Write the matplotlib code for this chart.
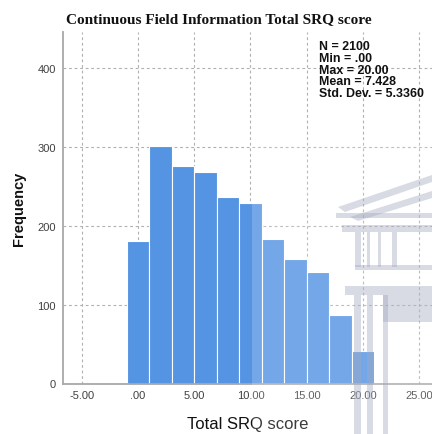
import matplotlib
matplotlib.use("Agg")
import matplotlib.pyplot as plt
from matplotlib.patches import Rectangle, Polygon

# Histogram of Total SRQ score (bins of width 2 centred on even scores)
bin_centers = [0, 2, 4, 6, 8, 10, 12, 14, 16, 18, 20]
frequencies = [181, 301, 275, 268, 236, 229, 183, 158, 141, 87, 41]
bin_width = 2.0

x_ticks = [-5, 0, 5, 10, 15, 20, 25]
x_tick_labels = ["-5.00", ".00", "5.00", "10.00", "15.00", "20.00", "25.00"]
y_ticks = [0, 100, 200, 300, 400]

stats_lines = ["N = 2100", "Min = .00", "Max = 20.00", "Mean = 7.428", "Std. Dev. = 5.3360"]
title = "Continuous Field Information Total SRQ score"

W, H = 432, 435
fig = plt.figure(figsize=(W / 100, H / 100), dpi=100)
ax = fig.add_axes([63 / W, 1 - 384.5 / H, 1 - 63 / W, (384.5 - 33) / H])

ax.bar(bin_centers, frequencies, width=bin_width, color="#5594e3",
       edgecolor="white", linewidth=0.8, zorder=2)

ax.set_xlim(-6.66, 26.14)
ax.set_ylim(0, 445)
ax.set_xticks(x_ticks)
ax.set_xticklabels(x_tick_labels)
ax.set_yticks(y_ticks)
ax.tick_params(length=0, labelsize=8, labelcolor="#404040", pad=5,
               labelfontfamily="Liberation Sans")
ax.grid(True, color="#b0b0b0", linestyle=(0, (2.5, 2.5)), linewidth=0.8, zorder=0)
ax.set_axisbelow(True)

for side in ("top", "right"):
    ax.spines[side].set_visible(False)
for side in ("left", "bottom"):
    ax.spines[side].set_color("#a8a8a8")
    ax.spines[side].set_linewidth(1.3)

ax.set_xlabel("Total SRQ score", fontsize=12, family="Liberation Sans",
              color="#111111", labelpad=11)
ax.set_ylabel("Frequency", fontsize=10.5, family="Liberation Sans",
              fontweight="bold", color="#111111", labelpad=8)

fig.text(219 / W, 1 - 20 / H, title, ha="center", va="center",
         family="Liberation Serif", fontweight="bold", fontsize=11, color="#111111")

# Summary statistics block, one line every ~12 px
for i, line in enumerate(stats_lines):
    fig.text(319 / W, 1 - (46.7 + 11.9 * i) / H, line, ha="left", va="center",
             family="Liberation Sans", fontweight="bold", fontsize=8.9,
             color="#111111")


# Faded building logo in the lower-right background
def px_rect(x0, y0, x1, y1, **kw):
    return Rectangle((x0 / W, 1 - y1 / H), (x1 - x0) / W, (y1 - y0) / H,
                     transform=fig.transFigure, **kw)


def px_poly(points, **kw):
    return Polygon([(x / W, 1 - y / H) for x, y in points],
                   transform=fig.transFigure, closed=True, **kw)


haze = dict(facecolor="white", edgecolor="none", alpha=0.18, zorder=5)
fig.add_artist(px_rect(252, 140, 432, 435, **haze))

logo = dict(facecolor="#a4a9c0", edgecolor="none", alpha=0.42, zorder=6)
# roof
fig.add_artist(px_poly([(338, 208), (432, 176), (432, 183), (345, 213)], **logo))
fig.add_artist(px_poly([(350, 218), (432, 192), (432, 199), (358, 222)], **logo))
fig.add_artist(px_rect(336, 214, 432, 219, **logo))
fig.add_artist(px_rect(342, 226, 432, 233, **logo))
# upper colonnade
for x0, x1 in [(355, 361), (367, 370), (378, 381), (392, 397)]:
    fig.add_artist(px_rect(x0, 233, x1, 268, **logo))
fig.add_artist(px_rect(355, 266, 432, 271, **logo))
# entablature / base block
fig.add_artist(px_rect(345, 287, 432, 296, **logo))
fig.add_artist(px_rect(383, 296, 432, 323, **logo))
# lower columns
for x0, x1 in [(354, 361), (367, 373), (383, 388)]:
    fig.add_artist(px_rect(x0, 296, x1, 435, **logo))

fig.savefig("out.png", dpi=100)
